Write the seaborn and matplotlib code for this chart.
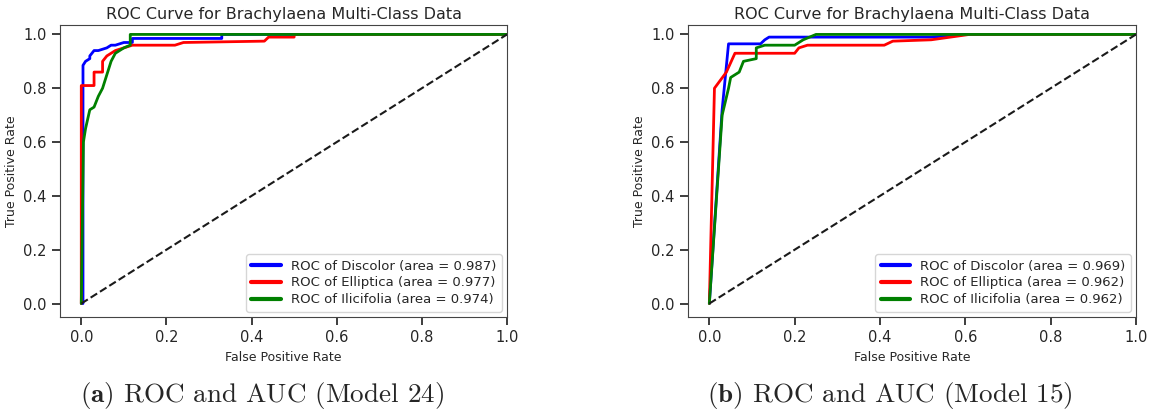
#!/usr/bin/env python3
"""Two ROC panels for the Brachylaena multi-class models."""

import matplotlib
matplotlib.use("Agg")
import matplotlib.pyplot as plt
import pandas as pd
import seaborn as sns


CLASSES = ["Discolor", "Elliptica", "Ilicifolia"]
COLORS = ["blue", "red", "green"]

# Model 24
M24_AUC = [0.987, 0.977, 0.974]
M24_FPR = [
    [0.0, 0.004, 0.004, 0.01, 0.02, 0.02, 0.03, 0.04, 0.06, 0.07, 0.08, 0.10, 0.12, 0.12, 0.33, 0.33, 1.0],
    [0.0, 0.0, 0.03, 0.03, 0.05, 0.05, 0.06, 0.08, 0.10, 0.12, 0.22, 0.24, 0.43, 0.44, 0.50, 0.50, 1.0],
    [0.0, 0.005, 0.01, 0.02, 0.03, 0.04, 0.05, 0.06, 0.07, 0.08, 0.10, 0.115, 0.115, 1.0],
]
M24_TPR = [
    [0.0, 0.0, 0.885, 0.90, 0.91, 0.92, 0.94, 0.94, 0.95, 0.96, 0.96, 0.97, 0.97, 0.985, 0.985, 1.0, 1.0],
    [0.0, 0.81, 0.81, 0.86, 0.86, 0.90, 0.92, 0.94, 0.95, 0.96, 0.96, 0.97, 0.975, 0.99, 0.99, 1.0, 1.0],
    [0.0, 0.60, 0.65, 0.72, 0.73, 0.77, 0.80, 0.85, 0.90, 0.93, 0.95, 0.96, 1.0, 1.0],
]

# Model 15
M15_AUC = [0.969, 0.962, 0.962]
M15_FPR = [
    [0.0, 0.03, 0.045, 0.12, 0.13, 0.14, 0.52, 0.60, 1.0],
    [0.0, 0.012, 0.04, 0.06, 0.20, 0.21, 0.23, 0.41, 0.43, 0.52, 0.61, 1.0],
    [0.0, 0.03, 0.045, 0.05, 0.07, 0.08, 0.11, 0.11, 0.13, 0.20, 0.22, 0.25, 1.0],
]
M15_TPR = [
    [0.0, 0.72, 0.965, 0.965, 0.98, 0.99, 0.99, 1.0, 1.0],
    [0.0, 0.80, 0.86, 0.93, 0.93, 0.95, 0.96, 0.96, 0.975, 0.98, 1.0, 1.0],
    [0.0, 0.70, 0.80, 0.84, 0.86, 0.90, 0.91, 0.95, 0.96, 0.96, 0.98, 1.0, 1.0],
]

CAPTIONS = [r"$\mathbf{(a)}$ ROC and AUC (Model 24)", r"$\mathbf{(b)}$ ROC and AUC (Model 15)"]


def roc_frame(fprs, tprs, aucs):
    rows = []
    for name, auc, fpr, tpr in zip(CLASSES, aucs, fprs, tprs):
        label = f"ROC of {name} (area = {auc:.3f})"
        for x, y in zip(fpr, tpr):
            rows.append((label, x, y))
    return pd.DataFrame(rows, columns=["curve", "fpr", "tpr"])


def draw_panel(ax, df):
    sns.lineplot(
        data=df,
        x="fpr",
        y="tpr",
        hue="curve",
        palette=COLORS,
        sort=False,
        estimator=None,
        linewidth=2,
        ax=ax,
    )
    ax.plot([0, 1], [0, 1], "k--", linewidth=1.5)
    ax.set_xlim(-0.05, 1.0)
    ax.set_ylim(-0.05, 1.035)
    ax.set_title("ROC Curve for Brachylaena Multi-Class Data", fontsize=11.5, pad=4)
    ax.set_xlabel("False Positive Rate", fontsize=9)
    ax.set_ylabel("True Positive Rate", fontsize=9)
    ax.tick_params(labelsize=10.5)
    leg = ax.legend(loc="lower right", fontsize=9.5, handlelength=2.2,
                    borderaxespad=0.4, labelspacing=0.3)
    for line in leg.get_lines():
        line.set_linewidth(3)
    for sp in ax.spines.values():
        sp.set_color("#444444")
        sp.set_linewidth(0.8)


def main():
    sns.set_theme(style="ticks")
    plt.rcParams["font.family"] = ["DejaVu Sans"]
    plt.rcParams["mathtext.fontset"] = "cm"

    fig = plt.figure(figsize=(11.5, 4.18), dpi=100)
    ax1 = fig.add_axes([60 / 1150, 101 / 418, 447 / 1150, 292 / 418])
    ax2 = fig.add_axes([688 / 1150, 101 / 418, 448 / 1150, 292 / 418])

    draw_panel(ax1, roc_frame(M24_FPR, M24_TPR, M24_AUC))
    draw_panel(ax2, roc_frame(M15_FPR, M15_TPR, M15_AUC))

    for xc, cap in zip([262 / 1150, 890 / 1150], CAPTIONS):
        fig.text(xc, 0.055, cap, ha="center", va="center", fontsize=19.5, family="cmr10")

    fig.savefig("out.png", dpi=100)


if __name__ == "__main__":
    main()
